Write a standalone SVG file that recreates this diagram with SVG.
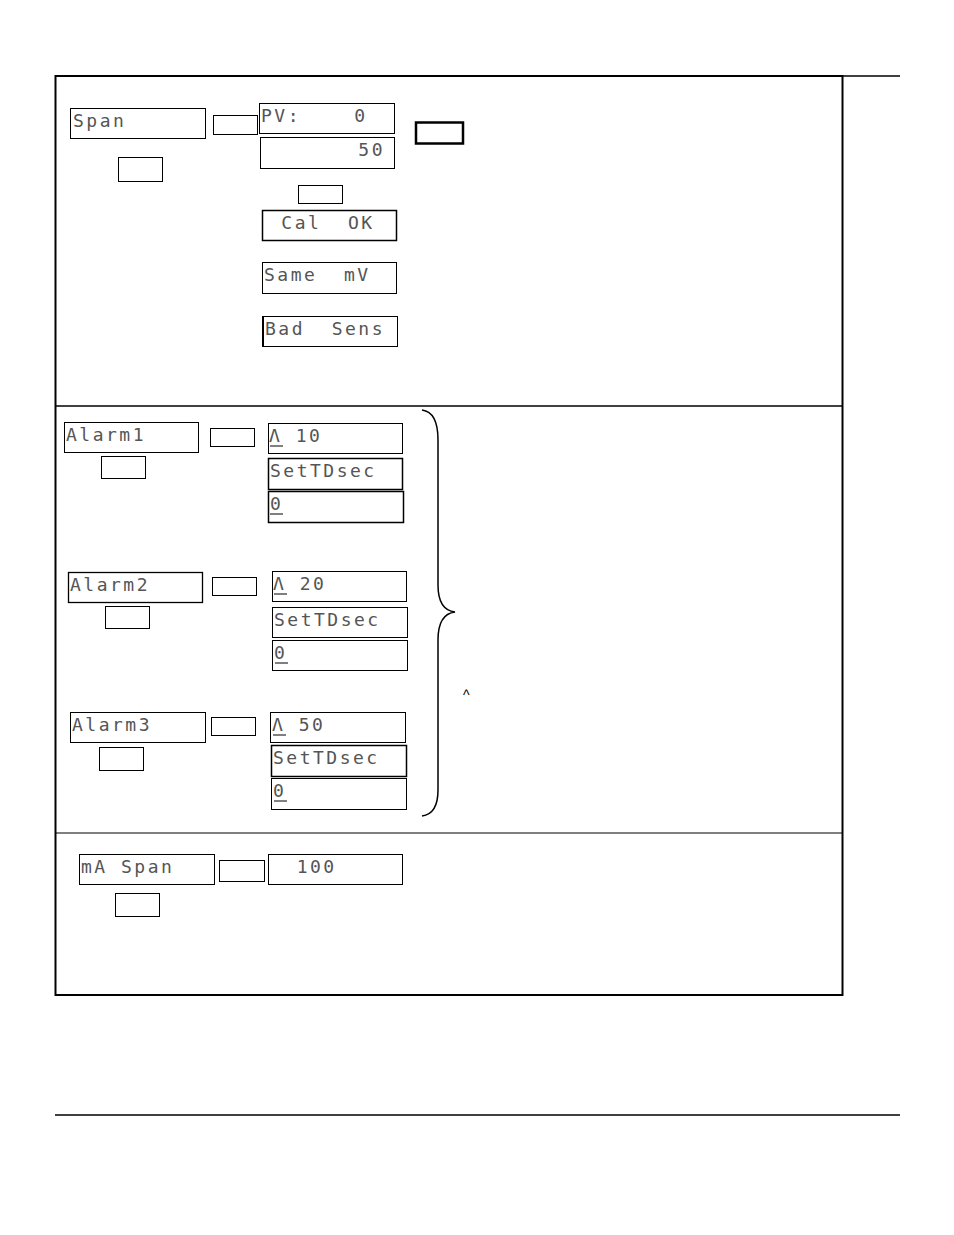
<svg xmlns="http://www.w3.org/2000/svg" width="954" height="1235" viewBox="0 0 954 1235">
<style>
.b{fill:#fff;stroke:#000;stroke-width:1}
.k{fill:#fff;stroke:#000;stroke-width:1}
.t{font-family:"DejaVu Sans Mono",monospace;font-size:18px;letter-spacing:2.5px;fill:#555;white-space:pre}
.l{stroke:#000;stroke-width:1.5;fill:none}
</style>
<rect width="954" height="1235" fill="#fff"/>
<g id="frame">
<line class="l" x1="55" y1="76" x2="900" y2="76"/>
<rect x="55.5" y="76" width="787" height="919" fill="none" stroke="#000" stroke-width="2"/>
<line class="l" x1="55" y1="406" x2="842" y2="406"/>
<line x1="55" y1="833" x2="842" y2="833" stroke="#000" stroke-width="1"/>
<line class="l" x1="55" y1="1115" x2="900" y2="1115"/>
</g>
<g id="span"><rect class="b" x="70.5" y="108.5" width="135" height="30"/><text class="t" x="73" y="127">Span</text></g>
<g id="k1"><rect class="k" x="213.5" y="115.5" width="44" height="19"/></g>
<g id="pv"><rect class="b" x="259.5" y="103.5" width="135" height="30"/><text class="t" x="261" y="122">PV:    0</text></g>
<g id="v50"><rect class="b" x="260.5" y="137.5" width="134" height="31"/><text class="t" x="265" y="156">       50</text></g>
<g id="k2"><rect class="k" x="118.5" y="157.5" width="44" height="24"/></g>
<g id="k3"><rect class="k" x="298.5" y="185.5" width="44" height="18"/></g>
<g id="calok"><rect class="b" x="262.5" y="210.5" width="134" height="30" style="stroke-width:1.5"/><text class="t" x="268" y="229"> Cal  OK</text></g>
<g id="samemv"><rect class="b" x="262.5" y="262.5" width="134" height="31"/><text class="t" x="264" y="281">Same  mV</text></g>
<g id="badsens"><rect class="b" x="262.5" y="316.5" width="135" height="30"/><line x1="263" y1="316" x2="263" y2="347" stroke="#000" stroke-width="2"/><text class="t" x="265" y="335">Bad  Sens</text></g>
<g id="kthick"><rect x="416" y="122.5" width="47" height="21" fill="#fff" stroke="#000" stroke-width="2.5"/></g>

<g id="alarm1"><rect class="b" x="64.5" y="422.5" width="134" height="30"/><text class="t" x="66" y="441">Alarm1</text></g>
<g id="k4"><rect class="k" x="210.5" y="428.5" width="44" height="18"/></g>
<g id="k5"><rect class="k" x="101.5" y="456.5" width="44" height="22"/></g>
<g id="a1v"><rect class="b" x="268.5" y="423.5" width="134" height="30"/><text class="t" x="269" y="442">Λ 10</text><line x1="270" y1="446" x2="283" y2="446" stroke="#000"/></g>
<g id="a1t"><rect class="b" x="268.5" y="458.5" width="134" height="31" style="stroke-width:1.5"/><text class="t" x="270" y="477">SetTDsec</text></g>
<g id="a1z"><rect class="b" x="268.5" y="491.5" width="135" height="31" style="stroke-width:1.5"/><text class="t" x="270" y="510">0</text><line x1="270" y1="514" x2="283" y2="514" stroke="#000"/></g>

<g id="alarm2"><rect class="b" x="68.5" y="572.5" width="134" height="30" style="stroke-width:1.3"/><text class="t" x="70" y="591">Alarm2</text></g>
<g id="k6"><rect class="k" x="212.5" y="577.5" width="44" height="18"/></g>
<g id="k7"><rect class="k" x="105.5" y="606.5" width="44" height="22"/></g>
<g id="a2v"><rect class="b" x="272.5" y="571.5" width="134" height="30"/><text class="t" x="273" y="590">Λ 20</text><line x1="274" y1="594" x2="287" y2="594" stroke="#000"/></g>
<g id="a2t"><rect class="b" x="272.5" y="607.5" width="135" height="30"/><text class="t" x="274" y="626">SetTDsec</text></g>
<g id="a2z"><rect class="b" x="272.5" y="640.5" width="135" height="30"/><text class="t" x="274" y="659">0</text><line x1="275" y1="663" x2="288" y2="663" stroke="#000"/></g>

<g id="alarm3"><rect class="b" x="70.5" y="712.5" width="135" height="30"/><text class="t" x="72" y="731">Alarm3</text></g>
<g id="k8"><rect class="k" x="211.5" y="717.5" width="44" height="18"/></g>
<g id="k9"><rect class="k" x="99.5" y="747.5" width="44" height="23"/></g>
<g id="a3v"><rect class="b" x="270.5" y="712.5" width="135" height="30"/><text class="t" x="272" y="731">Λ 50</text><line x1="273" y1="735" x2="286" y2="735" stroke="#000"/></g>
<g id="a3t"><rect class="b" x="271.5" y="745.5" width="135" height="31" style="stroke-width:1.5"/><text class="t" x="273" y="764">SetTDsec</text></g>
<g id="a3z"><rect class="b" x="271.5" y="778.5" width="135" height="31"/><text class="t" x="273" y="797">0</text><line x1="274" y1="801" x2="287" y2="801" stroke="#000"/></g>

<g id="connectors">
<path class="l" d="M422,410 Q438,412 438,440 L438,585 Q438,610 455,612 Q438,614 438,640 L438,790 Q438,814 422,816"/>
</g>
<text x="463" y="700" style="font-family:'Liberation Sans',sans-serif;font-size:14px;fill:#000">^</text>

<g id="maspan"><rect class="b" x="79.5" y="854.5" width="135" height="30"/><text class="t" x="81" y="873">mA Span</text></g>
<g id="k10"><rect class="k" x="219.5" y="860.5" width="45" height="21"/></g>
<g id="v100"><rect class="b" x="268.5" y="854.5" width="134" height="30"/><text class="t" x="270" y="873">  100</text></g>
<g id="k11"><rect class="k" x="115.5" y="893.5" width="44" height="23"/></g>
</svg>
